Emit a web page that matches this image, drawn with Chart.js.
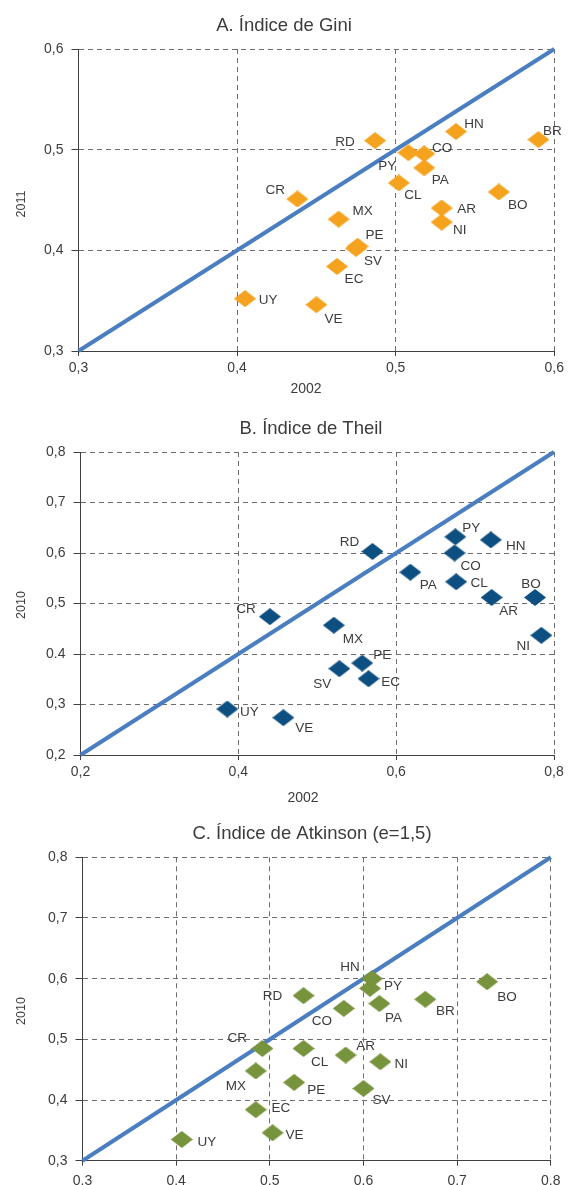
<!DOCTYPE html>
<html>
<head>
<meta charset="utf-8">
<script src="https://cdn.jsdelivr.net/npm/chart.js@4.4.1/dist/chart.umd.min.js"></script>
<style>
  body { margin: 0; background: #fff; }
  canvas { position: absolute; left: 0; }
</style>
</head>
<body>
<canvas id="gini" width="568" height="400" style="top:0px"></canvas>
<canvas id="theil" width="568" height="410" style="top:400px"></canvas>
<canvas id="atkinson" width="568" height="375" style="top:810px"></canvas>
<script>
// A. Gini (2002 vs 2011)
var giniPaises = ['RD','HN','BR','PY','CO','PA','CL','CR','BO','MX','AR','NI','PE','SV','EC','UY','VE'];
var gini2002 = [0.487,0.538,0.590,0.508,0.518,0.518,0.502,0.438,0.565,0.464,0.529,0.529,0.476,0.475,0.463,0.405,0.450];
var gini2011 = [0.509,0.518,0.510,0.497,0.496,0.482,0.467,0.451,0.458,0.431,0.442,0.428,0.404,0.402,0.384,0.352,0.346];
var giniTicksX = ['0,3','0,4','0,5','0,6'];
var giniTicksY = ['0,3','0,4','0,5','0,6'];

// B. Theil (2002 vs 2010)
var theilPaises = ['RD','PY','HN','CO','PA','CL','BO','AR','NI','CR','MX','PE','SV','EC','UY','VE'];
var theil2002 = [0.570,0.675,0.720,0.674,0.618,0.676,0.776,0.721,0.784,0.440,0.521,0.557,0.528,0.565,0.386,0.457];
var theil2010 = [0.603,0.632,0.626,0.600,0.562,0.543,0.512,0.512,0.437,0.474,0.457,0.382,0.371,0.351,0.291,0.274];
var theilTicksX = ['0,2','0,4','0,6','0,8'];
var theilTicksY = ['0,2','0,3','0.4','0,5','0,6','0,7','0,8'];

// C. Atkinson e=1,5 (2002 vs 2010)
var atkPaises = ['HN','PY','BO','RD','BR','PA','CO','CR','CL','AR','NI','MX','PE','SV','EC','VE','UY'];
var atk2002 = [0.609,0.607,0.732,0.536,0.666,0.617,0.579,0.492,0.536,0.581,0.618,0.485,0.526,0.600,0.485,0.503,0.406];
var atk2010 = [0.600,0.584,0.595,0.572,0.566,0.559,0.551,0.485,0.485,0.474,0.463,0.448,0.429,0.419,0.384,0.346,0.335];
var atkTicksX = ['0.3','0.4','0.5','0.6','0.7','0.8'];
var atkTicksY = ['0,3','0,4','0,5','0,6','0,7','0,8'];

// label offsets (px) from each marker
var posGini = {RD:[-30,0], HN:[18,-9], BR:[14,-10], PY:[-21,12], CO:[18,-7], PA:[16,11], CL:[14,11],
  CR:[-22,-10], BO:[19,12], MX:[24,-9], AR:[25,0], NI:[18,7], PE:[17,-12], SV:[17,12], EC:[17,12],
  UY:[23,0], VE:[17,13]};
var posTheil = {RD:[-23,-10], PY:[16,-10], HN:[25,5], CO:[16,12], PA:[18,12], CL:[23,0], BO:[-4,-14],
  AR:[17,13], NI:[-18,10], CR:[-24,-9], MX:[19,13], PE:[20,-9], SV:[-17,14], EC:[22,2], UY:[22,2], VE:[21,9]};
var posAtk = {HN:[-22,-13], PY:[23,-3], BO:[20,14], RD:[-31,-1], BR:[20,11], PA:[14,13], CO:[-22,12],
  CR:[-25,-11], CL:[16,13], AR:[20,-10], NI:[21,1], MX:[-20,14], PE:[22,7], SV:[18,11], EC:[25,-3],
  VE:[22,1], UY:[25,2]};

var FONT = '"Liberation Sans", Arial, sans-serif';
var TEXTO = '#3c3c3c';

function num(s) {
    return parseFloat(s.replace(',', '.'));
}

function rombo(color) {
    var c = document.createElement('canvas');
    c.width = 22; c.height = 17;
    var g = c.getContext('2d');
    g.fillStyle = color;
    g.beginPath();
    g.moveTo(11, 0); g.lineTo(22, 8.5); g.lineTo(11, 17); g.lineTo(0, 8.5);
    g.closePath();
    g.fill();
    return c;
}

function textos(p) {
    return {
        id: 'textos',
        afterDatasetsDraw: function(chart) {
            var ctx = chart.ctx;
            var meta = chart.getDatasetMeta(0);
            ctx.save();
            ctx.fillStyle = TEXTO;
            ctx.textBaseline = 'alphabetic';
            ctx.textAlign = 'center';
            ctx.font = '13.5px ' + FONT;
            meta.data.forEach(function(pt, i) {
                var o = p.pos[p.paises[i]];
                ctx.fillText(p.paises[i], pt.x + o[0], pt.y + o[1] + 5);
            });
            ctx.font = '18.5px ' + FONT;
            ctx.fillText(p.titulo[0], p.titulo[1], p.titulo[2] + 6.5);
            if (p.tituloX) {
                ctx.font = '14px ' + FONT;
                ctx.fillText(p.tituloX[0], p.tituloX[1], p.tituloX[2] + 5);
            }
            ctx.font = '12.5px ' + FONT;
            ctx.translate(p.tituloY[1], p.tituloY[2]);
            ctx.rotate(-Math.PI / 2);
            ctx.fillText(p.tituloY[0], 0, 4.5);
            ctx.restore();
        }
    };
}

function makeChart(id, p) {
    var xs = p.ticksX.map(num), ys = p.ticksY.map(num);
    var puntos = p.x.map(function(v, i) { return {x: v, y: p.y[i]}; });
    var H = document.getElementById(id).height;

    function eje(vals, labels, tick, pad, fit) {
        return {
            type: 'linear',
            min: vals[0],
            max: vals[vals.length - 1],
            afterBuildTicks: function(s) { s.ticks = vals.map(function(v) { return {value: v}; }); },
            afterFit: fit,
            ticks: {
                autoSkip: false,
                maxRotation: 0,
                padding: pad,
                color: TEXTO,
                font: {family: FONT, size: 14},
                callback: function(v, i) { return labels[i]; }
            },
            grid: {
                color: '#6e6e6e',
                lineWidth: 1,
                tickLength: tick,
                tickColor: '#404040',
                tickBorderDash: []
            },
            border: {display: true, color: '#404040', width: 1, dash: [5, 4]}
        };
    }

    return new Chart(document.getElementById(id).getContext('2d'), {
        type: 'scatter',
        data: {
            datasets: [{
                data: puntos,
                pointStyle: rombo(p.color),
                pointRadius: 9,
                pointHoverRadius: 9
            }, {
                data: [{x: xs[0], y: ys[0]}, {x: xs[xs.length - 1], y: ys[ys.length - 1]}],
                showLine: true,
                borderColor: '#4A7EC1',
                borderWidth: 4,
                pointRadius: 0,
                clip: false
            }]
        },
        options: {
            responsive: false,
            animation: false,
            layout: {padding: {left: 0, right: 568 - p.area[1], top: p.area[2], bottom: 0}},
            plugins: {legend: {display: false}, tooltip: {enabled: false}},
            scales: {
                x: eje(xs, p.ticksX, 5, p.padX, function(s) { s.height = H - p.area[3]; }),
                y: eje(ys, p.ticksY, 7, 8, function(s) { s.width = p.area[0]; })
            }
        },
        plugins: [textos(p)]
    });
}

makeChart('gini', {
    x: gini2002, y: gini2011, paises: giniPaises, pos: posGini,
    ticksX: giniTicksX, ticksY: giniTicksY, color: '#F5A21E',
    area: [78.5, 558, 49, 351], padX: 4,
    titulo: ['A. Índice de Gini', 284, 24], tituloX: ['2002', 306, 388], tituloY: ['2011', 20, 204]
});

makeChart('theil', {
    x: theil2002, y: theil2010, paises: theilPaises, pos: posTheil,
    ticksX: theilTicksX, ticksY: theilTicksY, color: '#0E4F82',
    area: [80.5, 554, 52, 355], padX: 4,
    titulo: ['B. Índice de Theil', 311, 27], tituloX: ['2002', 303, 397], tituloY: ['2010', 20, 205]
});

makeChart('atkinson', {
    x: atk2002, y: atk2010, paises: atkPaises, pos: posAtk,
    ticksX: atkTicksX, ticksY: atkTicksY, color: '#77933C',
    area: [82.5, 555, 47.3, 350.7], padX: 7.5,
    titulo: ['C. Índice de Atkinson (e=1,5)', 312, 22], tituloX: null, tituloY: ['2010', 20, 201]
});
</script>
</body>
</html>
